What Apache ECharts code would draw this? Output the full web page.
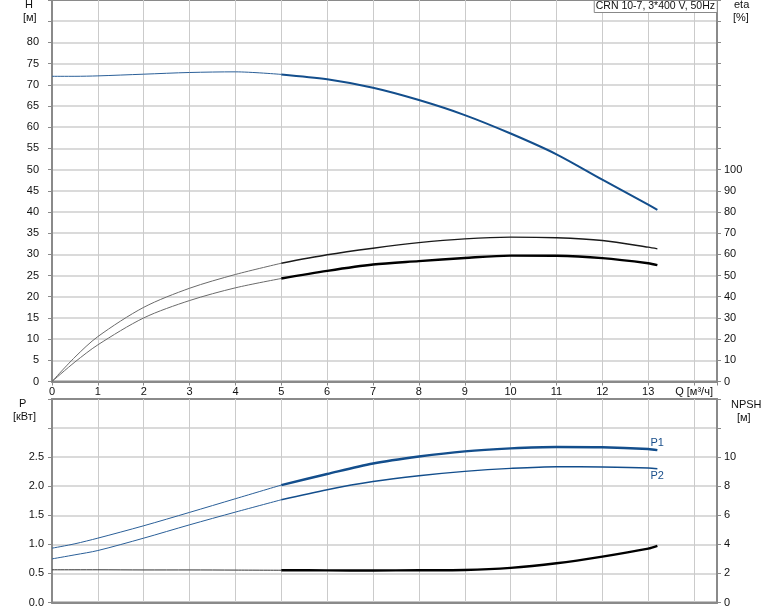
<!DOCTYPE html>
<html><head><meta charset="utf-8">
<script src="https://cdn.jsdelivr.net/npm/echarts@6/dist/echarts.min.js"></script>
<style>html,body{margin:0;padding:0;background:#fff}#c{width:774px;height:611px}</style>
</head><body><div id="c"></div>
<script>
// ---- data ----
const Q        = [0, 0.5, 1, 2, 3, 4, 5, 6, 7, 8, 9, 10, 11, 12, 13, 13.2];
const H        = [72.0, 72.0, 72.1, 72.5, 72.9, 73.05, 72.45, 71.3, 69.3, 66.4, 62.85, 58.5, 53.6, 47.6, 41.7, 40.5];
const ETA_UP   = [0, 11.5, 21.2, 35, 44, 50.5, 55.8, 59.8, 62.9, 65.5, 67.3, 68.1, 67.8, 66.5, 63.4, 62.6];
const ETA_LOW  = [0, 9.2, 17.3, 30, 38.2, 44.2, 48.6, 52.2, 55.2, 56.8, 58.3, 59.4, 59.3, 58.2, 55.8, 54.9];
const P1       = [0.934, 1.01, 1.107, 1.32, 1.55, 1.785, 2.02, 2.21, 2.39, 2.51, 2.60, 2.65, 2.675, 2.67, 2.64, 2.62];
const P2       = [0.75, 0.82, 0.894, 1.107, 1.336, 1.555, 1.767, 1.94, 2.08, 2.18, 2.255, 2.307, 2.336, 2.33, 2.314, 2.30];
const NPSH     = [2.25, 2.25, 2.25, 2.24, 2.24, 2.23, 2.22, 2.21, 2.2, 2.22, 2.24, 2.38, 2.7, 3.16, 3.71, 3.9];
const X_LABELS = ['0','1','2','3','4','5','6','7','8','9','10','11','12','13','Q [м³/ч]'];
const H_LABELS = ['0','5','10','15','20','25','30','35','40','45','50','55','60','65','70','75','80'];
const ETA_LABELS = ['0','10','20','30','40','50','60','70','80','90','100'];
const P_LABELS = ['0.0','0.5','1.0','1.5','2.0','2.5'];
const NPSH_LABELS = ['0','2','4','6','8','10'];
const TITLE = 'CRN 10-7, 3*400 V, 50Hz';
const SPLIT_Q = 5;

function pts(arr, lo, hi) {
  return Q.map((q, i) => [q, arr[i]]).filter(p => p[0] >= lo && p[0] <= hi);
}

const FONT = 'Liberation Sans';
const AX = '#8a8a8a';
const lbl = (labels, step, margin) => ({
  fontFamily: FONT, fontSize: 11, color: '#111', margin: margin,
  formatter: v => { const i = Math.round(v / step); return Math.abs(i * step - v) < 1e-6 && i < labels.length ? labels[i] : ''; }
});
const hSplit = {show: true, showMaxLine: false, lineStyle: {color: '#dadada', width: 2}};
const vSplit = {show: true, lineStyle: {color: '#cbcbcb', width: 1}};

function line(xi, yi, data, color, width, extra) {
  return Object.assign({type: 'line', xAxisIndex: xi, yAxisIndex: yi, data: data, symbol: 'none', smooth: 0.3,
    lineStyle: {color: color, width: width}, z: 2, animation: false}, extra || {});
}
function endLbl(text, dy) {
  return {endLabel: {show: true, formatter: text, offset: [-15, dy], color: '#1a4f8b', fontSize: 11, fontFamily: FONT}};
}

const BLUE = '#134e8c';
const option = {
  animation: false,
  title: {text: TITLE, right: 57, top: 0, padding: [1, 2, 1, 2], borderColor: '#888', borderWidth: 1,
    backgroundColor: '#fff', textStyle: {fontFamily: FONT, fontSize: 10.5, fontWeight: 'normal', color: '#111'}, z: 10},
  grid: [
    {left: 52, right: 57, top: 0, height: 381.5, show: true, borderColor: AX, borderWidth: 2, backgroundColor: 'transparent'},
    {left: 52, right: 57, top: 399, height: 203.5, show: true, borderColor: AX, borderWidth: 2, backgroundColor: 'transparent'}
  ],
  xAxis: [
    {gridIndex: 0, type: 'value', min: 0, max: 14.5, interval: 1,
     axisLine: {show: true, lineStyle: {color: AX, width: 2}},
     axisTick: {show: true, length: 4, lineStyle: {color: AX}},
     axisLabel: lbl(X_LABELS, 1, 5), splitLine: vSplit},
    {gridIndex: 1, type: 'value', min: 0, max: 14.5, interval: 1,
     axisLine: {show: true, lineStyle: {color: AX, width: 2}},
     axisTick: {show: false}, axisLabel: {show: false}, splitLine: vSplit}
  ],
  yAxis: [
    {gridIndex: 0, type: 'value', min: 0, max: 90, interval: 5, position: 'left',
     axisLine: {show: true, lineStyle: {color: AX, width: 2}},
     axisTick: {show: true, length: 4, lineStyle: {color: AX}},
     axisLabel: lbl(H_LABELS, 5, 13), splitLine: hSplit},
    {gridIndex: 0, type: 'value', min: 0, max: 180, interval: 10, position: 'right',
     axisLine: {show: true, lineStyle: {color: AX, width: 2}},
     axisTick: {show: true, length: 4, lineStyle: {color: AX}},
     axisLabel: lbl(ETA_LABELS, 10, 7), splitLine: {show: false}},
    {gridIndex: 1, type: 'value', min: 0, max: 3.5, interval: 0.5, position: 'left',
     axisLine: {show: true, lineStyle: {color: AX, width: 2}},
     axisTick: {show: true, length: 4, lineStyle: {color: AX}},
     axisLabel: lbl(P_LABELS, 0.5, 8), splitLine: hSplit},
    {gridIndex: 1, type: 'value', min: 0, max: 14, interval: 2, position: 'right',
     axisLine: {show: true, lineStyle: {color: AX, width: 2}},
     axisTick: {show: true, length: 4, lineStyle: {color: AX}},
     axisLabel: lbl(NPSH_LABELS, 2, 7), splitLine: {show: false}}
  ],
  graphic: [
    {type: 'text', left: 25, top: -1, style: {text: 'H', font: '11px ' + FONT, fill: '#111'}},
    {type: 'text', left: 23, top: 12, style: {text: '[м]', font: '11px ' + FONT, fill: '#111'}},
    {type: 'text', left: 734, top: -1, style: {text: 'eta', font: '11px ' + FONT, fill: '#111'}},
    {type: 'text', left: 733, top: 12, style: {text: '[%]', font: '11px ' + FONT, fill: '#111'}},
    {type: 'text', left: 19, top: 398, style: {text: 'P', font: '11px ' + FONT, fill: '#111'}},
    {type: 'text', left: 13, top: 411, style: {text: '[кВт]', font: '11px ' + FONT, fill: '#111'}},
    {type: 'text', left: 731, top: 399, style: {text: 'NPSH', font: '11px ' + FONT, fill: '#111'}},
    {type: 'text', left: 737, top: 412, style: {text: '[м]', font: '11px ' + FONT, fill: '#111'}}
  ],
  series: [
    line(0, 0, pts(H, 0, SPLIT_Q), '#2a5f98', 1),
    line(0, 0, pts(H, SPLIT_Q, 99), BLUE, 2),
    line(0, 1, pts(ETA_UP, 0, SPLIT_Q), '#6a6a6a', 1),
    line(0, 1, pts(ETA_UP, SPLIT_Q, 99), '#1a1a1a', 1.4),
    line(0, 1, pts(ETA_LOW, 0, SPLIT_Q), '#6a6a6a', 1),
    line(0, 1, pts(ETA_LOW, SPLIT_Q, 99), '#000', 2.4),
    line(1, 2, pts(P1, 0, SPLIT_Q), '#2a5f98', 1),
    line(1, 2, pts(P1, SPLIT_Q, 99), BLUE, 2.4, endLbl('P1', -7)),
    line(1, 2, pts(P2, 0, SPLIT_Q), '#2a5f98', 1),
    line(1, 2, pts(P2, SPLIT_Q, 99), BLUE, 1.4, endLbl('P2', 7)),
    line(1, 3, pts(NPSH, 0, SPLIT_Q), '#333', 1),
    line(1, 3, pts(NPSH, SPLIT_Q, 99), '#000', 2.4)
  ]
};
const chart = echarts.init(document.getElementById('c'), null, {renderer: 'canvas'});
chart.setOption(option);
</script>
</body></html>
